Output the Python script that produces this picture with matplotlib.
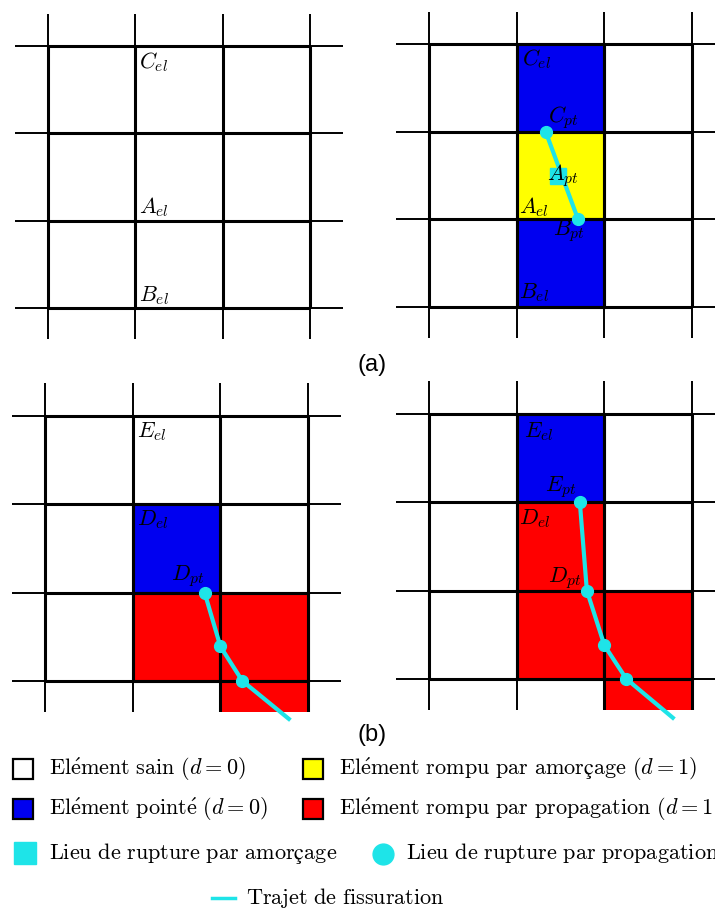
import matplotlib.pyplot as plt
from matplotlib.patches import Rectangle

plt.rcParams['mathtext.fontset'] = 'cm'

W, H = 715, 909
CYAN = '#1ee4e8'
state_colors = {'pointe': '#0000f0', 'amorcage': '#ffff00', 'propagation': '#ff0000'}

# mesh lines, in element units
grid_lines = [0, 1, 2, 3]

# (a) left: healthy mesh, labels only
labels_a1 = [(1.04, 0.25, r'$C_{el}$'), (1.04, 1.91, r'$A_{el}$'), (1.04, 2.92, r'$B_{el}$')]

# (a) right: initiation
cells_a2 = [(1, 0, 'pointe'), (1, 1, 'amorcage'), (1, 2, 'pointe')]
crack_a2_x = [1.33, 1.70]
crack_a2_y = [1.0, 2.0]
init_a2_x = [1.47]
init_a2_y = [1.5]
labels_a2 = [(1.06, 0.24, r'$C_{el}$'), (1.36, 0.89, r'$C_{pt}$'), (1.35, 1.55, r'$A_{pt}$'),
             (1.03, 1.93, r'$A_{el}$'), (1.41, 2.18, r'$B_{pt}$'), (1.03, 2.90, r'$B_{el}$')]

# (b) left: first propagation step
cells_b1 = [(1, 1, 'pointe'), (1, 2, 'propagation'), (2, 2, 'propagation'), (2, 3, 'propagation')]
crack_b1_x = [1.82, 2.0, 2.25, 2.78]
crack_b1_y = [2.0, 2.61, 3.0, 3.43]
n_pts_b1 = 3
labels_b1 = [(1.05, 0.24, r'$E_{el}$'), (1.05, 1.24, r'$D_{el}$'), (1.44, 1.86, r'$D_{pt}$')]

# (b) right: second propagation step
cells_b2 = [(1, 0, 'pointe'), (1, 1, 'propagation'), (1, 2, 'propagation'),
            (2, 2, 'propagation'), (2, 3, 'propagation')]
crack_b2_x = [1.72, 1.80, 2.0, 2.25, 2.78]
crack_b2_y = [1.0, 2.0, 2.62, 3.0, 3.44]
n_pts_b2 = 4
labels_b2 = [(1.08, 0.26, r'$E_{el}$'), (1.32, 0.88, r'$E_{pt}$'),
             (1.03, 1.25, r'$D_{el}$'), (1.36, 1.90, r'$D_{pt}$')]

# legend (mathtext so that the Computer Modern look is kept)
legend_cells = ['sain', 'amorcage', 'pointe', 'propagation']
legend_texts = [r'$\mathrm{El\acute{e}ment\ sain}\ (d=0)$',
                r'$\mathrm{El\acute{e}ment\ rompu\ par\ amorçage}\ (d=1)$',
                r'$\mathrm{El\acute{e}ment\ point\acute{e}}\ (d=0)$',
                r'$\mathrm{El\acute{e}ment\ rompu\ par\ propagation}\ (d=1)$',
                r'$\mathrm{Lieu\ de\ rupture\ par\ amorçage}$',
                r'$\mathrm{Lieu\ de\ rupture\ par\ propagation}$',
                r'$\mathrm{Trajet\ de\ fissuration}$']

fig = plt.figure(figsize=(W / 100, H / 100), dpi=100)


def make_panel(x0, y0, cw, ch):
    xmin, xmax, ymin, ymax = -0.38, 3.37, -0.37, 3.35
    left, right = x0 + xmin * cw, x0 + xmax * cw
    top, bottom = y0 + ymin * ch, y0 + ymax * ch
    ax = fig.add_axes([left / W, 1 - bottom / H, (right - left) / W, (bottom - top) / H])
    ax.set_xlim(xmin, xmax)
    ax.set_ylim(ymax, ymin)
    ax.axis('off')
    return ax


def draw_panel(ax, cells, labels, crack_x=None, crack_y=None, n_pts=0, init_x=None, init_y=None):
    for c, r, s in cells:
        ax.add_patch(Rectangle((c, r), 1, 1, facecolor=state_colors[s], edgecolor='k', lw=2.2))
    for g in grid_lines:
        ax.axvline(g, color='k', lw=1.4)
        ax.axhline(g, color='k', lw=1.4)
    ax.vlines(grid_lines, 0, 3, color='k', lw=2.2)
    ax.hlines(grid_lines, 0, 3, color='k', lw=2.2)
    if crack_x is not None:
        ax.plot(crack_x, crack_y, color=CYAN, lw=3, clip_on=False, zorder=5)
        ax.plot(crack_x[:n_pts], crack_y[:n_pts], 'o', color=CYAN, ms=8.5, zorder=6)
    if init_x is not None:
        ax.plot(init_x, init_y, 's', color=CYAN, ms=12, zorder=6)
    for x, y, t in labels:
        ax.text(x, y, t, fontsize=16, va='baseline', ha='left', zorder=7)


draw_panel(make_panel(48, 46, 87.4, 87.4), [], labels_a1)
draw_panel(make_panel(429, 44, 87.7, 87.7), cells_a2, labels_a2,
           crack_a2_x, crack_a2_y, 2, init_a2_x, init_a2_y)
draw_panel(make_panel(45, 416, 87.7, 88.3), cells_b1, labels_b1, crack_b1_x, crack_b1_y, n_pts_b1)
draw_panel(make_panel(429, 414, 87.7, 88.3), cells_b2, labels_b2, crack_b2_x, crack_b2_y, n_pts_b2)

fig.text(372 / W, 1 - 365 / H, '(a)', fontsize=17, family='Liberation Sans', ha='center', va='center')
fig.text(372 / W, 1 - 735 / H, '(b)', fontsize=17, family='Liberation Sans', ha='center', va='center')

# legend drawn in pixel units
lg = fig.add_axes([0, 0, 1, 165 / H])
lg.set_xlim(0, W)
lg.set_ylim(H, H - 165)
lg.axis('off')
row_y = [769, 769, 809, 809]
col_x = [23, 313, 23, 313]
fills = {'sain': 'white', **state_colors}
for i, s in enumerate(legend_cells):
    lg.plot(col_x[i], row_y[i], 's', ms=14, mfc=fills[s], mec='k', mew=1.6, clip_on=False)
    lg.text(col_x[i] + 26, row_y[i], legend_texts[i], fontsize=16, va='center', ha='left')
lg.plot(25, 853, 's', ms=16, color=CYAN, clip_on=False)
lg.text(49, 853, legend_texts[4], fontsize=16, va='center', ha='left')
lg.plot(383, 854, 'o', ms=15, color=CYAN, clip_on=False)
lg.text(406, 853, legend_texts[5], fontsize=16, va='center', ha='left')
lg.plot([212, 235], [898, 898], color=CYAN, lw=2.5)
lg.text(246, 898, legend_texts[6], fontsize=16, va='center', ha='left')

fig.savefig('out.png', dpi=100)
